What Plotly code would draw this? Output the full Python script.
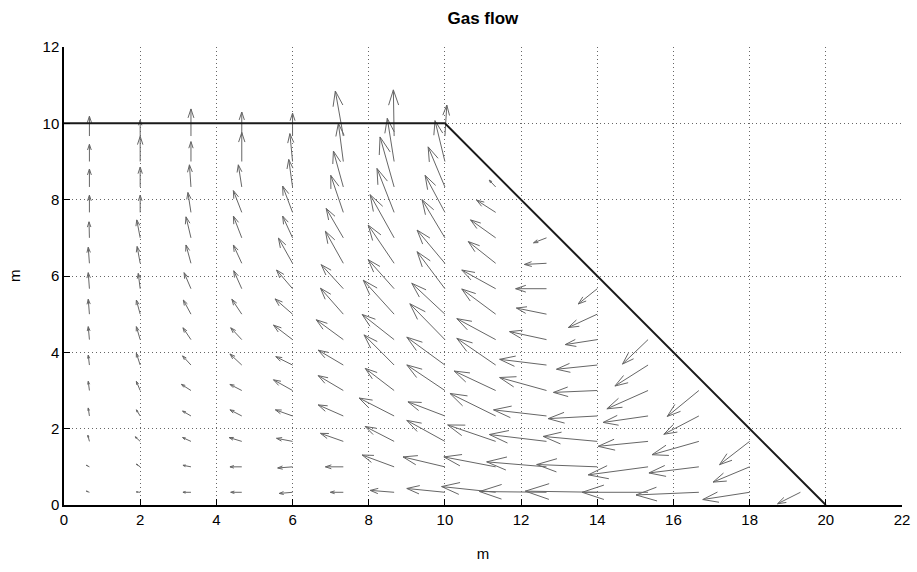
import numpy as np
import plotly.graph_objects as go

# Grid of arrow tails
col_x = [0.667, 2.0, 3.333, 4.667, 6.0, 7.333, 8.667, 10.0,
         11.333, 12.667, 14.0, 15.333, 16.667, 18.0, 19.333]
row_y = [0.333, 1.0, 1.667, 2.333, 3.0, 3.667, 4.333, 5.0,
         5.667, 6.333, 7.0, 7.667, 8.333, 9.0, 9.667]

# Velocity components per column (bottom row first), in axis units
U = [
    [-0.08, -0.08, -0.04, -0.03, -0.03, -0.03, -0.03, -0.03, -0.03, -0.03, -0.01, 0, 0, 0, 0],
    [-0.10, -0.10, -0.13, -0.10, -0.10, -0.10, -0.10, -0.10, -0.05, -0.08, -0.09, 0, 0, 0, 0],
    [-0.21, -0.21, -0.22, -0.22, -0.25, -0.22, -0.21, -0.20, -0.18, -0.13, -0.13, -0.08, -0.04, 0, 0],
    [-0.29, -0.31, -0.33, -0.31, -0.31, -0.31, -0.29, -0.26, -0.21, -0.22, -0.22, -0.22, -0.09, 0, 0],
    [-0.35, -0.39, -0.42, -0.45, -0.50, -0.44, -0.50, -0.46, -0.42, -0.37, -0.26, -0.26, -0.10, -0.07, 0],
    [-0.34, -0.47, -0.60, -0.66, -0.66, -0.66, -0.71, -0.60, -0.58, -0.47, -0.45, -0.33, -0.26, -0.13, -0.21],
    [-0.63, -0.84, -0.76, -0.92, -0.76, -0.79, -0.84, -0.81, -0.68, -0.68, -0.63, -0.45, -0.37, -0.18, -0.02],
    [-1.00, -1.10, -1.00, -0.97, -1.00, -1.00, -0.92, -0.87, -0.73, -0.73, -0.60, -0.52, -0.44, -0.26, 0.05],
    [-1.42, -1.36, -1.26, -1.20, -1.09, -1.02, -1.02, -0.89, -0.89, -0.72, -0.66, -0.50, -0.17],
    [-1.76, -1.57, -1.50, -1.39, -1.23, -1.23, -0.97, -0.79, -0.81, -0.58, -0.34],
    [-1.89, -1.59, -1.42, -1.29, -1.15, -1.07, -0.84, -0.76, -0.50],
    [-1.73, -1.57, -1.31, -1.18, -1.08, -0.87, -0.67],
    [-1.65, -1.31, -1.23, -0.92, -0.83],
    [-1.23, -0.96, -0.79],
    [-0.60],
]
V = [
    [0.03, 0.04, 0.16, 0.21, 0.24, 0.26, 0.34, 0.39, 0.42, 0.42, 0.42, 0.45, 0.47, 0.45, 0.52],
    [0.01, 0.07, 0.12, 0.16, 0.24, 0.31, 0.34, 0.37, 0.40, 0.44, 0.47, 0.45, 0.52, 0.66, 0.42],
    [0.00, 0.04, 0.10, 0.13, 0.16, 0.24, 0.31, 0.37, 0.42, 0.48, 0.55, 0.52, 0.58, 0.52, 0.71],
    [0.00, 0.00, 0.10, 0.16, 0.16, 0.29, 0.31, 0.39, 0.47, 0.48, 0.57, 0.57, 0.58, 0.76, 0.63],
    [-0.03, -0.03, 0.08, 0.16, 0.28, 0.22, 0.38, 0.40, 0.49, 0.66, 0.57, 0.69, 0.72, 0.73, 0.60],
    [0.00, 0.00, 0.21, 0.29, 0.39, 0.39, 0.52, 0.68, 0.63, 0.84, 0.77, 0.97, 0.94, 1.00, 1.18],
    [0.05, 0.31, 0.39, 0.47, 0.58, 0.79, 0.66, 0.89, 0.76, 1.00, 1.13, 1.15, 1.31, 1.13, 1.21],
    [0.10, 0.26, 0.55, 0.37, 0.67, 0.73, 0.94, 0.81, 0.97, 0.87, 1.00, 0.97, 1.05, 1.07, 0.81],
    [0.15, 0.26, 0.43, 0.59, 0.51, 0.70, 0.55, 0.66, 0.49, 0.57, 0.47, 0.32, 0.18],
    [0.02, 0.13, 0.18, 0.16, 0.34, 0.15, 0.21, 0.16, 0.00, -0.03, -0.13],
    [0.03, 0.06, 0.13, -0.07, -0.05, -0.11, -0.13, -0.35, -0.40],
    [0.00, -0.21, -0.13, -0.17, -0.48, -0.55, -0.64],
    [-0.07, -0.16, -0.35, -0.48, -0.68],
    [-0.19, -0.40, -0.61],
    [-0.30],
]

# Domain boundary
boundary_x = [0, 10, 20]
boundary_y = [10, 10, 0]

x_ticks = list(range(0, 23, 2))
y_ticks = list(range(0, 13, 2))

# Build quiver line segments (MATLAB-style heads)
alpha, beta = 0.33, 0.33
sx, sy = [], []
for xi, us, vs in zip(col_x, U, V):
    for yj, u, v in zip(row_y, us, vs):
        x1, y1 = xi + u, yj + v
        sx += [xi, x1, None]
        sy += [yj, y1, None]
        sx += [x1 - alpha * (u + beta * v), x1, x1 - alpha * (u - beta * v), None]
        sy += [y1 - alpha * (v - beta * u), y1, y1 - alpha * (v + beta * u), None]

FONT = "Liberation Sans, Arial, sans-serif"

fig = go.Figure()
fig.add_trace(go.Scatter(x=sx, y=sy, mode="lines",
                         line=dict(color="#666666", width=1),
                         hoverinfo="skip", showlegend=False))
fig.add_trace(go.Scatter(x=boundary_x, y=boundary_y, mode="lines",
                         line=dict(color="#1a1a1a", width=2),
                         hoverinfo="skip", showlegend=False))

axis_common = dict(
    showgrid=True, gridcolor="#666666", griddash="1px,3px", gridwidth=1,
    zeroline=False, showline=True, linecolor="black", linewidth=1.5,
    ticks="inside", ticklen=6, tickcolor="black",
    tickfont=dict(family=FONT, size=15, color="black"),
    mirror=False, automargin=False,
)

fig.update_layout(
    width=917, height=572,
    margin=dict(l=64, r=15, t=47, b=67),
    paper_bgcolor="white", plot_bgcolor="white",
    title=dict(text="<b>Gas flow</b>", x=0.5266, xanchor="center", y=0.968, yanchor="middle",
               font=dict(family=FONT, size=17, color="black")),
    xaxis=dict(range=[0, 22], tickvals=x_ticks,
               title=dict(text="m", font=dict(family=FONT, size=15, color="black"), standoff=22),
               **axis_common),
    yaxis=dict(range=[0, 12], tickvals=y_ticks, **axis_common),
    annotations=[dict(text="m", xref="paper", yref="paper", x=0, y=0.5,
                      xanchor="center", yanchor="middle", xshift=-50, textangle=-90,
                      showarrow=False, font=dict(family=FONT, size=15, color="black"))],
)

fig.write_html("out.html", config={"displayModeBar": False},
               post_script="document.body.style.margin='0';")
